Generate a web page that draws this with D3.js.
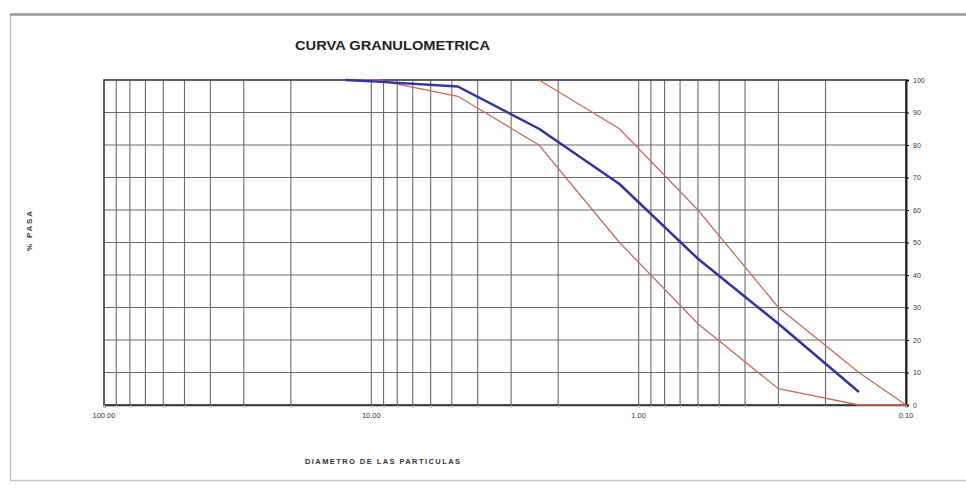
<!DOCTYPE html>
<html>
<head>
<meta charset="utf-8">
<script src="https://cdn.jsdelivr.net/npm/d3@7"></script>
<style>
	body { margin: 0; background: #fff; }
	svg { display: block; font-family: 'Liberation Sans', Arial, sans-serif; }
</style>
</head>
<body>
<svg id="chart" width="966" height="489"></svg>
<script>
// tamices (mm) y porcentaje que pasa
const tamices = [12.5, 9.5, 4.75, 2.36, 1.18, 0.6, 0.3, 0.15, 0.1];
const muestra = [100, 99.5, 98, 85, 68, 45, 25, 4, null];
const limiteInf = [100, 100, 95, 80, 50, 25, 5, 0, 0];
const limiteSup = [null, null, null, 100, 85, 60, 30, 10, 0];

const xTicks = [100, 10, 1, 0.1];
const xTickLabels = ['100.00', '10.00', '1.00', '0.10'];
const yTicks = [0, 10, 20, 30, 40, 50, 60, 70, 80, 90, 100];

let svg = d3.select('#chart'),
	plot = {left: 104, right: 906, top: 80, bottom: 405};

// marco exterior
svg.append('rect')
	.attr('x', 10.5).attr('y', 14.5)
	.attr('width', 960).attr('height', 466)
	.attr('fill', 'none')
	.attr('stroke', '#c2c2c2')
	.attr('stroke-width', 1.5);
svg.append('line')
	.attr('x1', 10).attr('x2', 966)
	.attr('y1', 14.5).attr('y2', 14.5)
	.attr('stroke', '#999').attr('stroke-width', 2.5);

let x = d3.scaleLog().domain([100, 0.1]).range([plot.left, plot.right]),
	y = d3.scaleLinear().domain([0, 100]).range([plot.bottom, plot.top]);

let g = svg.append('g');

// rejilla vertical (logarítmica)
let minor = [];
[10, 1, 0.1].forEach(dec => {
	for (let k = 1; k <= 9; k++) minor.push(dec * k);
});
minor.push(100);

g.selectAll('line.vgrid')
	.data(minor)
	.enter().append('line')
	.attr('class', 'vgrid')
	.attr('x1', d => x(d)).attr('x2', d => x(d))
	.attr('y1', plot.top).attr('y2', plot.bottom)
	.attr('stroke', '#6a6a6a')
	.attr('stroke-width', 1.1);

// rejilla horizontal
g.selectAll('line.hgrid')
	.data(yTicks)
	.enter().append('line')
	.attr('class', 'hgrid')
	.attr('x1', plot.left).attr('x2', plot.right)
	.attr('y1', d => y(d)).attr('y2', d => y(d))
	.attr('stroke', '#6a6a6a')
	.attr('stroke-width', 1.1);

// borde del área
g.append('rect')
	.attr('x', plot.left).attr('y', plot.top)
	.attr('width', plot.right - plot.left).attr('height', plot.bottom - plot.top)
	.attr('fill', 'none')
	.attr('stroke', '#444')
	.attr('stroke-width', 1.5);

// eje derecho
let yAxis = g.append('g')
	.attr('transform', `translate(${plot.right}, 0)`)
	.call(d3.axisRight(y).tickValues(yTicks).tickSize(3).tickPadding(4));
yAxis.select('.domain').attr('stroke', '#222').attr('stroke-width', 2);
yAxis.selectAll('text').attr('font-size', 7).attr('fill', '#333');

// eje inferior
let xAxis = g.append('g')
	.attr('transform', `translate(0, ${plot.bottom})`)
	.call(d3.axisBottom(x).tickValues(minor).tickSize(3).tickFormat(''));
xAxis.select('.domain').attr('stroke', '#333').attr('stroke-width', 1.5);
xAxis.selectAll('.tick line').attr('stroke', '#bbb');
g.selectAll('text.xlab')
	.data(xTicks)
	.enter().append('text')
	.attr('class', 'xlab')
	.attr('x', d => x(d))
	.attr('y', plot.bottom + 13)
	.attr('text-anchor', 'middle')
	.attr('font-size', 7.5)
	.attr('fill', '#333')
	.text((d, i) => xTickLabels[i]);

// curvas
let line = d3.line()
	.defined(d => d.p !== null)
	.x(d => x(d.t))
	.y(d => y(d.p));

let serie = arr => tamices.map((t, i) => ({t: t, p: arr[i]}));

g.append('path')
	.datum(serie(limiteInf))
	.attr('fill', 'none')
	.attr('stroke', '#cf6a5a')
	.attr('stroke-width', 1.3)
	.attr('d', line);

g.append('path')
	.datum(serie(limiteSup))
	.attr('fill', 'none')
	.attr('stroke', '#cf6a5a')
	.attr('stroke-width', 1.3)
	.attr('d', line);

g.append('path')
	.datum(serie(muestra))
	.attr('fill', 'none')
	.attr('stroke', '#33339f')
	.attr('stroke-width', 2.5)
	.attr('stroke-linejoin', 'round')
	.attr('d', line);

// textos
svg.append('text')
	.attr('x', 295).attr('y', 50)
	.attr('font-size', 13.5)
	.attr('font-weight', 'bold')
	.attr('fill', '#222')
	.attr('textLength', 195)
	.attr('lengthAdjust', 'spacingAndGlyphs')
	.text('CURVA GRANULOMETRICA');

svg.append('text')
	.attr('x', 305).attr('y', 464)
	.attr('font-size', 7.5)
	.attr('font-weight', 'bold')
	.attr('fill', '#333')
	.attr('textLength', 155)
	.attr('lengthAdjust', 'spacing')
	.text('DIAMETRO DE LAS PARTICULAS');

svg.append('text')
	.attr('transform', 'translate(32, 231) rotate(-90)')
	.attr('text-anchor', 'middle')
	.attr('font-size', 8)
	.attr('font-weight', 'bold')
	.attr('fill', '#333')
	.attr('textLength', 40)
	.attr('lengthAdjust', 'spacing')
	.text('% PASA');
</script>
</body>
</html>
